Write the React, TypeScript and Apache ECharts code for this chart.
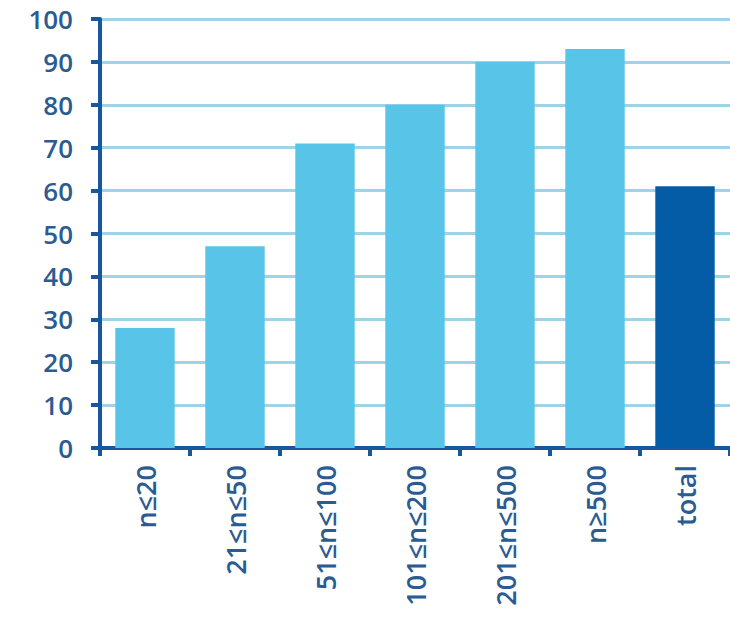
import React, { useEffect, useRef } from "react";
import * as echarts from "echarts";

const categories = ["n≤20", "21≤n≤50", "51≤n≤100", "101≤n≤200", "201≤n≤500", "n≥500", "total"];
const values = [28, 47, 71, 80, 90, 93, 61];
const yTicks = { min: 0, max: 100, interval: 10 };

const LIGHT = "#57c4e8";
const DARK = "#045ba6";
const AXIS = "#1657a0";
const TEXT = "#2b5b93";
const GRID = "#9fd3e8";

export default function App() {
  const ref = useRef<HTMLDivElement>(null);
  useEffect(() => {
    if (!ref.current) return;
    const chart = echarts.init(ref.current, undefined, { renderer: "svg" });
    chart.setOption({
      animation: false,
      grid: { left: 100, right: 0, top: 19, bottom: 180, containLabel: false },
      xAxis: {
        type: "category",
        data: categories,
        boundaryGap: true,
        axisLine: { show: true, lineStyle: { color: AXIS, width: 4 } },
        axisTick: { show: true, length: 8, lineStyle: { color: AXIS, width: 4 }, interval: 0 },
        axisLabel: {
          rotate: 90,
          interval: 0,
          margin: 17,
          color: TEXT,
          fontSize: 27,
          fontFamily: "Open Sans",
          fontWeight: 600,
        },
        splitLine: { show: false },
      },
      yAxis: {
        type: "value",
        min: yTicks.min,
        max: yTicks.max,
        interval: yTicks.interval,
        axisLine: { show: true, lineStyle: { color: AXIS, width: 4 } },
        axisTick: { show: true, length: 9, lineStyle: { color: AXIS, width: 4 } },
        axisLabel: {
          margin: 27,
          color: TEXT,
          fontSize: 26,
          fontFamily: "Open Sans",
          fontWeight: 600,
        },
        splitLine: { show: true, lineStyle: { color: GRID, width: 3 } },
      },
      series: [
        {
          type: "bar",
          data: values.map((v, i) => ({
            value: v,
            itemStyle: { color: i === values.length - 1 ? DARK : LIGHT },
          })),
          barWidth: "66%",
        },
      ],
    });
    return () => chart.dispose();
  }, []);
  return (
    <div
      ref={ref}
      style={{ position: "absolute", left: 0, top: 0, width: 730, height: 628, background: "#fff" }}
    />
  );
}
